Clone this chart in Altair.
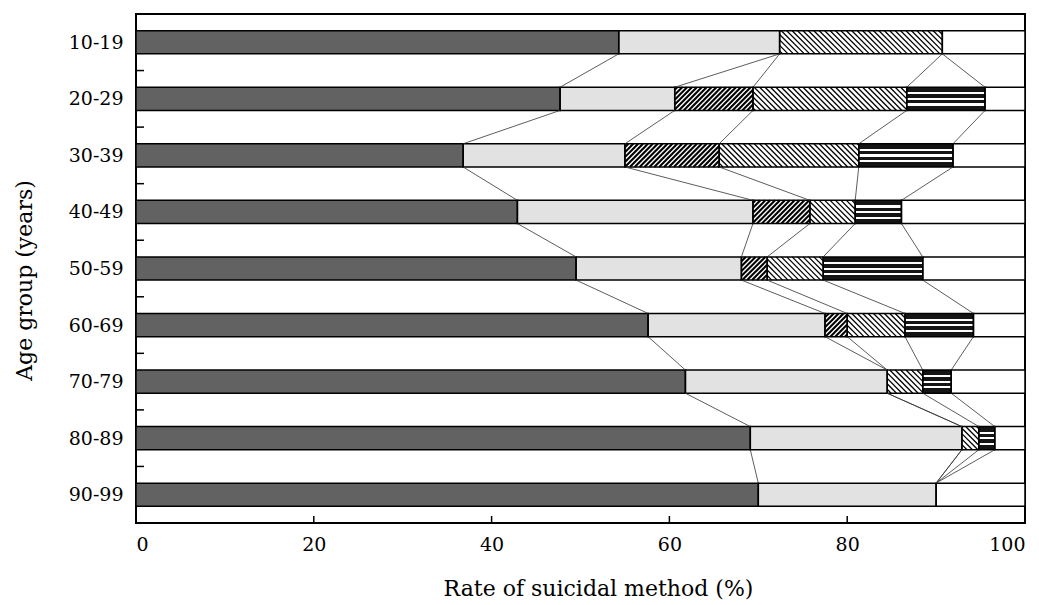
import json
import altair as alt
import pandas as pd

# ---------------- data ----------------
ages = ["10-19", "20-29", "30-39", "40-49", "50-59", "60-69", "70-79", "80-89", "90-99"]
methods = ["Method 1", "Method 2", "Method 3", "Method 4", "Method 5", "Others"]
m1 = [54.3, 47.7, 36.8, 42.9, 49.5, 57.6, 61.8, 69.1, 70.0]   # dark stipple
m2 = [18.1, 12.9, 18.2, 26.5, 18.6, 19.9, 22.7, 23.8, 20.0]   # light stipple
m3 = [0.0, 8.8, 10.6, 6.4, 2.9, 2.5, 0.0, 0.0, 0.0]           # dense "/" hatch
m4 = [18.3, 17.3, 15.7, 5.1, 6.3, 6.5, 4.0, 1.9, 0.0]         # light "\" hatch
m5 = [0.0, 8.8, 10.6, 5.2, 11.2, 7.7, 3.2, 1.8, 0.0]          # horizontal stripes
m6 = [9.3, 4.5, 8.1, 13.9, 11.5, 5.8, 8.3, 3.4, 10.0]         # others (white)
series = [m1, m2, m3, m4, m5, m6]
x_tick_labels = [0, 20, 40, 60, 80, 100]
inner_x_ticks = [20, 40, 60, 80]

# ---------------- tables built from the arrays ----------------
seg_rows, cums = [], []
for i, age in enumerate(ages):
    cum = 0.0
    b = []
    for k, vals in enumerate(series):
        v = vals[i]
        seg_rows.append(dict(age=age, idx=i, method=methods[k], start=cum, end=cum + v, value=v))
        cum += v
        b.append(cum)
    cums.append(b[:5])
segs = pd.DataFrame(seg_rows)
segs = segs[segs["value"] > 0].reset_index(drop=True)

link_rows = []
for i in range(len(ages) - 1):
    for k in range(5):
        link_rows.append(dict(idx=i, x0=cums[i][k], x1=cums[i + 1][k]))
links = pd.DataFrame(link_rows)
bounds_df = pd.DataFrame({"b": [i + 0.5 for i in range(len(ages) - 1)]})
xt_df = pd.DataFrame({"v": inner_x_ticks})

# ---------------- style ----------------
W, H = 889, 509
HB = 0.205                      # half bar thickness, in row units
RUN = 23 * 100.0 / W            # horizontal run of a 45deg hatch line over bar height
FONT = "DejaVu Serif"

yscale = alt.Scale(domain=[-0.5, len(ages) - 0.5], reverse=True, nice=False, zero=False)
xscale = alt.Scale(domain=[0, 100], nice=False, zero=False)

yaxis = alt.Axis(title="Age group (years)", values=list(range(len(ages))),
                 labelExpr=json.dumps(ages) + "[datum.value]",
                 ticks=False, tickSize=0, domain=False, grid=False,
                 labelPadding=13, titlePadding=32, titleY=266)
xaxis = alt.Axis(title="Rate of suicidal method (%)", values=x_tick_labels, format="d",
                 ticks=False, tickSize=0, domain=False, grid=False,
                 labelPadding=12, titlePadding=24, titleX=462)


def X(field):
    return alt.X(field, type="quantitative", scale=xscale, axis=xaxis)


def Y(field):
    return alt.Y(field, type="quantitative", scale=yscale, axis=yaxis)


ycalc = dict(y0=f"datum.idx - {HB}", y1=f"datum.idx + {HB}")
base = alt.Chart(segs).transform_calculate(**ycalc)

fills = base.transform_filter(alt.datum.method != "Method 5").mark_rect(strokeWidth=0).encode(
    x=X("start"), x2="end", y=Y("y0"), y2="y1",
    fill=alt.Fill("method:N", legend=None,
                  scale=alt.Scale(domain=methods,
                                  range=["#626262", "#e2e2e2", "#ffffff", "#ffffff", "#111111", "#ffffff"])),
)

stops = []
for a, b_, col in [(0.0, 0.22, "#151515"), (0.22, 0.31, "#ffffff"), (0.31, 0.46, "#151515"),
                   (0.46, 0.55, "#ffffff"), (0.55, 0.70, "#151515"), (0.70, 0.79, "#ffffff"),
                   (0.79, 1.0, "#151515")]:
    stops.append(alt.GradientStop(color=col, offset=a))
    stops.append(alt.GradientStop(color=col, offset=b_))
stripe_grad = alt.Gradient(gradient="linear", x1=0, x2=0, y1=0, y2=1, stops=stops)

stripes = base.transform_filter(alt.datum.method == "Method 5").mark_rect(
    fill=stripe_grad, strokeWidth=0
).encode(x=X("start"), x2="end", y=Y("y0"), y2="y1")


def hatch(method, spacing, width, rising):
    if rising:   # "/" : bottom-left to top-right
        hy1 = "datum.y1 - datum.s0 * (datum.y1 - datum.y0)"
        hy2 = "datum.y1 - datum.s1 * (datum.y1 - datum.y0)"
    else:        # "\" : top-left to bottom-right
        hy1 = "datum.y0 + datum.s0 * (datum.y1 - datum.y0)"
        hy2 = "datum.y0 + datum.s1 * (datum.y1 - datum.y0)"
    return (
        base.transform_filter(alt.datum.method == method)
        .transform_calculate(
            ts=f"sequence(floor((datum.start - {RUN}) / {spacing}) * {spacing}, datum.end + {spacing}, {spacing})"
        )
        .transform_flatten(["ts"], as_=["t"])
        .transform_calculate(
            s0=f"max(0, (datum.start - datum.t) / {RUN})",
            s1=f"min(1, (datum.end - datum.t) / {RUN})",
        )
        .transform_filter("datum.s1 > datum.s0")
        .transform_calculate(
            hx1=f"datum.t + datum.s0 * {RUN}",
            hx2=f"datum.t + datum.s1 * {RUN}",
            hy1=hy1,
            hy2=hy2,
        )
        .mark_rule(color="black", strokeWidth=width, strokeCap="butt")
        .encode(x=X("hx1"), x2="hx2", y=Y("hy1"), y2="hy2")
    )


dense = hatch("Method 3", 0.55, 2.1, True)
light = hatch("Method 4", 0.61, 1.3, False)

outlines = base.mark_rect(fillOpacity=0, stroke="black", strokeWidth=1.5).encode(
    x=X("start"), x2="end", y=Y("y0"), y2="y1"
)

connect = alt.Chart(links).transform_calculate(
    ya=f"datum.idx + {HB}", yb=f"datum.idx + 1 - {HB}"
).mark_rule(color="#333333", strokeWidth=0.8).encode(
    x=X("x0"), x2="x1", y=Y("ya"), y2="yb"
)

yticks = alt.Chart(bounds_df).mark_rule(color="black", strokeWidth=1.5).encode(
    y=Y("b"), x=alt.value(0), x2=alt.value(8)
)
xticks = alt.Chart(xt_df).mark_rule(color="black", strokeWidth=1.5).encode(
    x=X("v"), y=alt.value(H), y2=alt.value(H - 7)
)

chart = (
    alt.layer(fills, stripes, dense, light, outlines, connect, yticks, xticks)
    .properties(width=W, height=H, background="white",
                padding={"left": 5, "top": 6, "right": 5, "bottom": 5})
    .configure_view(stroke="black", strokeWidth=2)
    .configure_axis(labelFont=FONT, titleFont=FONT, labelFontSize=19, titleFontSize=22,
                    titleFontWeight="normal", labelColor="black", titleColor="black")
)

chart.save("out.html", embed_options={"renderer": "svg", "actions": False})
